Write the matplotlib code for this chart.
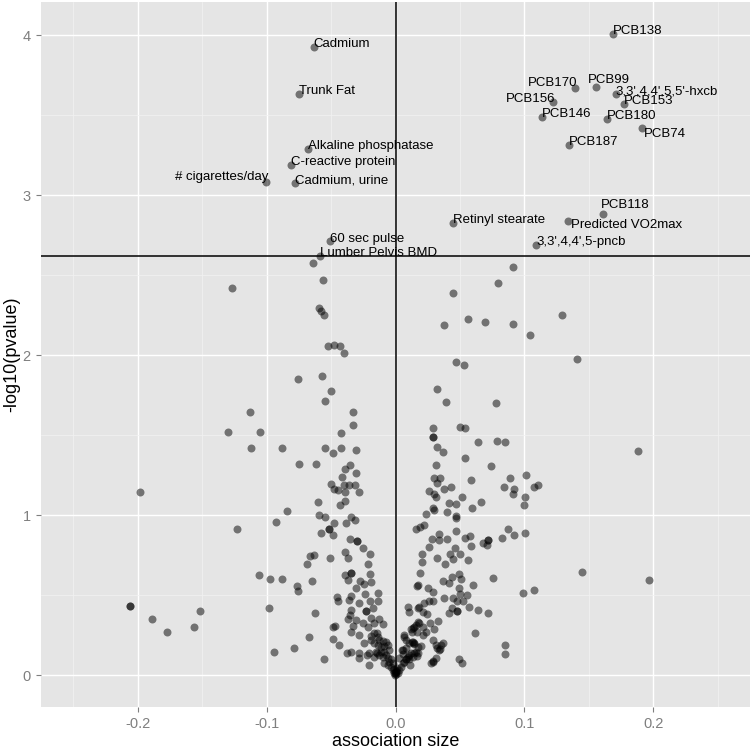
import numpy as np
import matplotlib
matplotlib.use("Agg")
import matplotlib.pyplot as plt
from matplotlib.ticker import MultipleLocator

plt.rcParams['font.family'] = ['Liberation Sans', 'DejaVu Sans']

# labelled exposures (association size, -log10 p)
label_names = ["Cadmium", "Trunk Fat", "Alkaline phosphatase", "C-reactive protein",
               "# cigarettes/day", "Cadmium, urine", "60 sec pulse", "Lumber Pelvis BMD",
               "PCB138", "PCB170", "PCB99", "3,3',4,4',5,5'-hxcb", "PCB156", "PCB153",
               "PCB146", "PCB180", "PCB74", "PCB187", "PCB118", "Retinyl stearate",
               "Predicted VO2max", "3,3',4,4',5-pncb"]
label_x = [-0.0636, -0.0747, -0.068, -0.0807, -0.1001, -0.0779, -0.0511, -0.0587,
           0.169, 0.1395, 0.1556, 0.1708, 0.1221, 0.1773, 0.1136, 0.1643, 0.1913,
           0.1343, 0.161, 0.0444, 0.1335, 0.1092]
label_y = [3.927, 3.631, 3.289, 3.191, 3.081, 3.077, 2.716, 2.621, 4.010, 3.6725,
           3.675, 3.633, 3.581, 3.5725, 3.487, 3.474, 3.4225, 3.3125, 2.885, 2.829,
           2.841, 2.689]

# all other exposures
assoc = [
    -0.0641, -0.0566, -0.127, -0.0594, -0.0577, -0.0558, -0.0524, -0.0476, -0.0431, -0.04,
    -0.0758, -0.0571, -0.0504, -0.0545, -0.113, -0.0328, -0.033, -0.13, -0.1055, -0.0423,
    -0.112, -0.088, -0.055, -0.0421, -0.0483, -0.0307, -0.0747, -0.062, -0.0356, -0.039,
    -0.0307, -0.0416, -0.0504, -0.048, -0.0449, -0.0398, -0.0359, -0.0317, -0.0395, -0.0284,
    -0.1985,
    0.0908, 0.0794, 0.0447, 0.1291, 0.0561, 0.0379, 0.0698, 0.0911, 0.1043, 0.1408,
    0.0468, 0.053, 0.0322, 0.0392, 0.0776, 0.0291, 0.0289, 0.0289, 0.0499, 0.0542,
    0.0643, 0.0789, 0.0853, 0.1884, 0.0325, 0.0367, 0.0542, 0.0315, 0.0742, 0.1016,
    0.089, 0.0299, 0.0343, 0.0322, 0.0587, 0.0429, 0.0379, 0.0258, 0.0297, 0.0838,
    0.0918, 0.0915, 0.1074, 0.1107, 0.0519, 0.1004, 0.0315,
    -0.0602, -0.0845, -0.0594, -0.0545, -0.0434, -0.0395, -0.0926, -0.048, -0.0385, -0.0346,
    -0.0315, -0.1226, -0.0519, -0.0519, -0.0579, -0.0488, -0.0351, -0.0301, -0.0298, -0.025,
    -0.0198, -0.0662, -0.0631, -0.0509, -0.0395, -0.0371, -0.0685, -0.0216, -0.1061, -0.097,
    -0.088, -0.0649, -0.0765, -0.0755, -0.039, -0.0367, -0.0343, -0.0343, -0.0274, -0.0242,
    -0.019, -0.02, -0.0307, -0.0346, -0.0361, -0.0452, -0.0449, -0.0239, -0.0198, -0.0138,
    -0.0136, -0.0177, -0.0286, -0.0346, -0.0351, -0.0229, -0.0229, -0.019, -0.098, -0.0628,
    -0.206, -0.206, -0.1892, -0.1773, -0.1566, -0.1517, -0.0367, -0.033, -0.0255, -0.0214,
    -0.0126, -0.0165, -0.0486, -0.047, -0.0343, -0.0281, -0.0242, -0.0672, -0.0488, -0.0439,
    -0.0786, -0.0942, -0.0558, -0.0379, -0.0346, -0.0281, -0.0281, -0.0208, -0.0221, -0.0144,
    0.1449, 0.197, 0.0988, 0.1071, 0.0755, 0.0846, 0.0851, 0.062, 0.0643, 0.0716,
    0.0491, 0.0519, 0.0998, 0.1004, 0.0921, 0.0872, 0.0828, 0.0678, 0.0706, 0.0719,
    0.0719, 0.0662, 0.0594, 0.0468, 0.0418, 0.0468, 0.047, 0.0398, 0.0299, 0.0294,
    0.0235, 0.0157, 0.019, 0.0224, 0.0468, 0.0284, 0.034, 0.034, 0.0402, 0.054,
    0.0577, 0.0587, 0.0258, 0.0208, 0.0208, 0.0193, 0.0325, 0.0385, 0.0426, 0.046,
    0.0501, 0.0447, 0.0566, 0.0369, 0.0416, 0.0493, 0.0441, 0.0509, 0.0602, 0.0165,
    0.0172, 0.0253, 0.0289, 0.0491, 0.0499, 0.0553, 0.0379, 0.0447, 0.0478, 0.0524,
    0.0569, 0.0439, 0.048, 0.048, 0.0416, 0.01, 0.0183, 0.0224, 0.0263, 0.0289,
    0.0105, 0.0175, 0.0211, 0.0247, 0.0333, 0.0266, 0.0299, 0.0216, 0.0172, 0.0146,
    0.0131, 0.012, 0.0167, 0.0066, 0.0053, 0.0079, 0.0107, 0.0126, 0.0146, 0.0175,
    0.0167, 0.0289, 0.0317, 0.0346, 0.0367, 0.0354, 0.032, 0.0276, 0.0289,
    -0.0305, -0.01, -0.019, -0.0144, -0.019, -0.017, 0.003, 0.0115, 0.0056,
    -0.0208, -0.0152, -0.0165, -0.0126, -0.0099, -0.0074, -0.0061, -0.0035, -0.0138, -0.0113,
    -0.0087, -0.0061, -0.0048, -0.0087, -0.0113, -0.0126, -0.0099, -0.0074, -0.0138, -0.0165,
    -0.0087, -0.0061, -0.0035, -0.0022, -0.0014, -0.0048, -0.0022,
    0.0017, 0.003, 0.0043, 0.0056, 0.0068, 0.0082, 0.0095, 0.0107, 0.012, 0.0134,
    0.0146, 0.0159, 0.0068, 0.0082, 0.0107, 0.0134, 0.0146, 0.0172, 0.0198, 0.0056,
    0.0082, 0.0289, 0.0315, 0.0237, 0.034, 0.0134, 0.0159, 0.0185, 0.0211,
    -0.0007, 0.0006, 0.0, -0.001, 0.001, -0.0004, 0.0003,
]
neglogp = [
    2.579, 2.473, 2.419, 2.294, 2.277, 2.254, 2.056, 2.066, 2.056, 2.014,
    1.85, 1.869, 1.779, 1.714, 1.644, 1.646, 1.566, 1.523, 1.519, 1.514,
    1.421, 1.423, 1.423, 1.421, 1.389, 1.406, 1.319, 1.319, 1.314, 1.288,
    1.263, 1.238, 1.198, 1.163, 1.158, 1.188, 1.188, 1.188, 1.144, 1.148,
    1.148,
    2.55, 2.452, 2.389, 2.25, 2.227, 2.187, 2.208, 2.194, 2.125, 1.979,
    1.958, 1.941, 1.787, 1.71, 1.7, 1.544, 1.491, 1.491, 1.552, 1.546,
    1.46, 1.462, 1.46, 1.4, 1.425, 1.396, 1.36, 1.314, 1.306, 1.25,
    1.231, 1.233, 1.231, 1.202, 1.221, 1.177, 1.164, 1.154, 1.135, 1.177,
    1.164, 1.133, 1.179, 1.189, 1.114, 1.114, 1.114,
    1.081, 1.027, 1.002, 0.9875, 1.0625, 1.0875, 0.96, 0.95, 0.954, 0.991,
    0.971, 0.9125, 0.9125, 0.9125, 0.891, 0.875, 0.854, 0.839, 0.842, 0.796,
    0.756, 0.7475, 0.75, 0.733, 0.769, 0.731, 0.696, 0.694, 0.629, 0.602,
    0.604, 0.591, 0.56, 0.527, 0.625, 0.596, 0.639, 0.639, 0.591, 0.5725,
    0.583, 0.633, 0.5475, 0.494, 0.47, 0.491, 0.466, 0.508, 0.466, 0.5125,
    0.466, 0.4225, 0.454, 0.408, 0.377, 0.4, 0.4, 0.36, 0.419, 0.389,
    0.431, 0.431, 0.352, 0.269, 0.304, 0.4, 0.35, 0.308, 0.329, 0.304,
    0.35, 0.325, 0.304, 0.308, 0.2725, 0.252, 0.204, 0.241, 0.229, 0.189,
    0.171, 0.146, 0.104, 0.141, 0.146, 0.1375, 0.11, 0.0625, 0.129, 0.1375,
    0.6475, 0.5975, 0.5125, 0.535, 0.608, 0.189, 0.131, 0.2625, 0.41, 0.389,
    0.102, 0.075, 1.064, 0.891, 0.875, 0.9125, 0.858, 0.825, 0.814, 0.846,
    0.846, 1.085, 1.0475, 1.069, 1.075, 0.9975, 0.981, 1.0225, 1.033, 1.044,
    1.008, 0.914, 0.925, 0.939, 0.9, 0.854, 0.846, 0.881, 0.85, 0.858,
    0.869, 0.806, 0.8, 0.76, 0.706, 0.6375, 0.731, 0.694, 0.758, 0.794,
    0.758, 0.727, 0.7225, 0.591, 0.579, 0.633, 0.6125, 0.6, 0.564, 0.558,
    0.564, 0.546, 0.521, 0.546, 0.506, 0.502, 0.481, 0.481, 0.466, 0.466,
    0.429, 0.4225, 0.404, 0.404, 0.389, 0.429, 0.427, 0.452, 0.466, 0.466,
    0.396, 0.421, 0.3975, 0.383, 0.341, 0.325, 0.289, 0.252, 0.333, 0.304,
    0.2725, 0.289, 0.2725, 0.241, 0.158, 0.1, 0.104, 0.21, 0.2, 0.1375,
    0.121, 0.221, 0.1875, 0.1625, 0.2, 0.189, 0.169, 0.075, 0.091,
    0.345, 0.319, 0.246, 0.266, 0.221, 0.204, 0.106, 0.064, 0.131,
    0.1375, 0.1475, 0.116, 0.127, 0.116, 0.127, 0.106, 0.1, 0.189, 0.179,
    0.183, 0.189, 0.158, 0.1475, 0.1475, 0.221, 0.216, 0.21, 0.241, 0.2625,
    0.075, 0.064, 0.054, 0.033, 0.0125, 0.085, 0.075,
    0.0125, 0.033, 0.054, 0.075, 0.085, 0.1, 0.116, 0.127, 0.1375, 0.116,
    0.1375, 0.1475, 0.252, 0.221, 0.204, 0.21, 0.196, 0.179, 0.183, 0.158,
    0.169, 0.085, 0.106, 0.2725, 0.158, 0.294, 0.314, 0.325, 0.304,
    0.003, 0.006, 0.02, 0.04, 0.045, 0.012, 0.028,
]

threshold = 2.62

# text placement for each label: (ha, va, dx px, dy px)
label_place = [("left", "baseline", 0, 0), ("left", "baseline", 0, 0),
               ("left", "baseline", 0, 0), ("left", "baseline", 0, 0),
               ("right", "baseline", 2, 2), ("left", "baseline", 0, -1),
               ("left", "baseline", 0, -1), ("left", "baseline", 0, 0),
               ("left", "baseline", 0, 0), ("right", "baseline", 2, 2),
               ("left", "baseline", -8, 4), ("left", "baseline", 0, 0),
               ("right", "baseline", 2, 0), ("left", "baseline", 0, 0),
               ("left", "baseline", 0, 0), ("left", "baseline", 0, 0),
               ("left", "top", 2, 0), ("left", "baseline", 0, 0),
               ("left", "baseline", -2, 6), ("left", "baseline", 0, 0),
               ("left", "top", 3, 2), ("left", "baseline", 0, 0)]

fig = plt.figure(figsize=(7.5, 7.5), dpi=100)
ax = fig.add_axes([41 / 750, 43.3 / 750, 709 / 750, 705 / 750])
ax.set_facecolor('#E5E5E5')
for s in ax.spines.values():
    s.set_visible(False)

ax.set_xlim(-0.275, 0.275)
ax.set_ylim(-0.196, 4.21)
ax.xaxis.set_major_locator(MultipleLocator(0.1))
ax.xaxis.set_minor_locator(MultipleLocator(0.05))
ax.yaxis.set_major_locator(MultipleLocator(1))
ax.yaxis.set_minor_locator(MultipleLocator(0.5))
ax.grid(which='major', color='white', lw=1.0)
ax.grid(which='minor', color='#F2F2F2', lw=0.5)
ax.set_axisbelow(True)
ax.set_xticks([-0.2, -0.1, 0.0, 0.1, 0.2])
ax.set_xticklabels(['-0.2', '-0.1', '0.0', '0.1', '0.2'])
ax.tick_params(which='major', color='#7F7F7F', labelcolor='#7F7F7F', length=3.5,
               width=0.8, labelsize=10.5, pad=4)
ax.tick_params(which='minor', length=0)

ax.scatter(assoc, neglogp, s=33, c='black', alpha=0.5, lw=0, zorder=3)
ax.scatter(label_x, label_y, s=33, c='black', alpha=0.5, lw=0, zorder=3)

ax.axhline(threshold, color='black', lw=1.1, zorder=4)
ax.axvline(0, color='black', lw=1.1, zorder=4)

for name, x, y, (ha, va, dx, dy) in zip(label_names, label_x, label_y, label_place):
    ax.annotate(name, (x, y), xytext=(dx * 0.72, dy * 0.72), textcoords='offset points',
                ha=ha, va=va, fontsize=9.5, color='black', zorder=5)

fig.text(395.5 / 750, 1 - 741 / 750, 'association size', ha='center', va='center', fontsize=13)
fig.text(12 / 750, 1 - 354 / 750, '-log10(pvalue)', ha='center', va='center',
         rotation=90, fontsize=13)

fig.savefig('out.png', dpi=100)
